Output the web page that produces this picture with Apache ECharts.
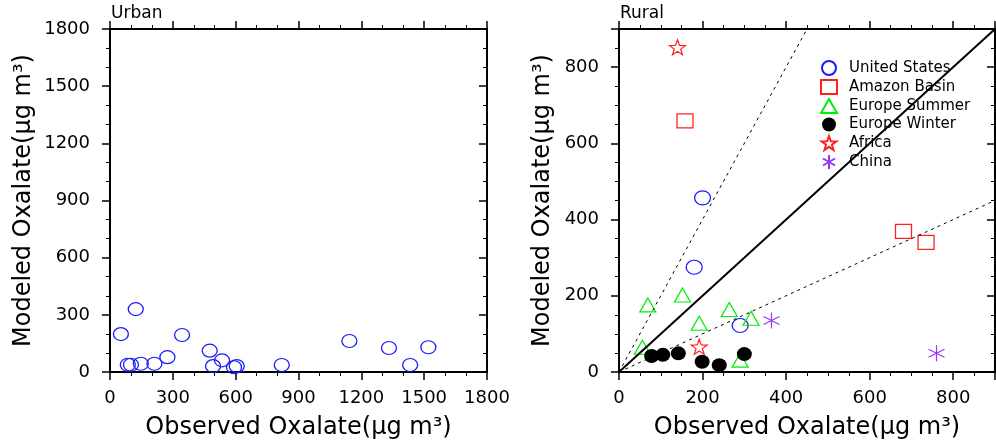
<!DOCTYPE html>
<html>
<head>
<meta charset="utf-8">
<script src="https://cdn.jsdelivr.net/npm/echarts@6/dist/echarts.min.js"></script>
<style>
  html, body { margin: 0; padding: 0; background: #fff; }
  #main { width: 996px; height: 441px; }
</style>
</head>
<body>
<div id="main"></div>
<script>
// Urban panel: [observed, modeled]
var urbanPts = [[52, 199], [123, 330], [85, 38], [100, 38], [147, 43], [212, 43], [274, 78],
    [344, 194], [476, 112], [492, 31], [535, 61], [592, 25], [605, 31], [820, 37],
    [1143, 163], [1332, 126], [1433, 37], [1520, 130]];

// Rural panel
var usPts = [[200, 457], [180, 275], [290, 122]];
var amazonPts = [[158, 659], [681, 369], [735, 340]];
var euSummerPts = [[69, 176], [152, 202], [192, 128], [264, 164], [316, 141], [56, 65], [290, 31]];
var euWinterPts = [[78, 42], [105, 45], [142, 49], [199, 27], [240, 18], [300, 47]];
var africaPts = [[140, 852], [192, 66]];
var chinaPts = [[365, 135], [760, 49]];

// reference lines 1:1, 2:1, 1:2
var oneToOne = [[0, 0], [900, 900]];
var twoToOne = [[0, 0], [450, 900]];
var oneToTwo = [[0, 0], [900, 450]];

var xTitle = 'Observed Oxalate(\u03bcg m\u00b3)';
var yTitle = 'Modeled Oxalate(\u03bcg m\u00b3)';

var FONT = 'DejaVu Sans';
var starPath = 'path://M0,-10 L2.35,-3.24 L9.51,-3.09 L3.8,1.24 L5.88,8.09 L0,4 L-5.88,8.09 L-3.8,1.24 L-9.51,-3.09 L-2.35,-3.24 Z';
var asterPath = 'path://M0,-10 L0,10 M-8.66,-5 L8.66,5 M-8.66,5 L8.66,-5';

var myChart = echarts.init(document.getElementById('main'));

function mkAxis(pos, gridIndex, max, interval, show, name, nameGap) {
    var inside = pos === 'right';
    return {
        type: 'value',
        gridIndex: gridIndex,
        position: pos,
        min: 0,
        max: max,
        interval: interval,
        name: name || '',
        nameLocation: 'middle',
        nameGap: nameGap || 0,
        nameTextStyle: { fontFamily: FONT, fontSize: 24, color: '#000' },
        axisLine: { show: true, onZero: false, lineStyle: { color: '#000', width: 2 } },
        axisTick: { show: true, inside: inside, length: 8, lineStyle: { color: '#000', width: 1.5 } },
        minorTick: { show: true, splitNumber: interval === 300 ? 3 : 4, length: 4, lineStyle: { color: '#000', width: 1 } },
        axisLabel: {
            show: show,
            margin: pos === 'bottom' ? 17 : 20,
            fontFamily: FONT,
            fontSize: 18,
            color: '#000',
            showMaxLabel: max === 1800,
            formatter: function (v) { return String(v); }
        },
        splitLine: { show: false }
    };
}

option = {
    backgroundColor: '#fff',
    animation: false,
    title: [
        { text: 'Urban', left: 106, top: 0, textStyle: { fontFamily: FONT, fontSize: 17, fontWeight: 'normal', color: '#000' } },
        { text: 'Rural', left: 615, top: 0, textStyle: { fontFamily: FONT, fontSize: 17, fontWeight: 'normal', color: '#000' } }
    ],
    grid: [
        { left: 110, top: 29, width: 377, height: 343, outerBoundsMode: 'none', containLabel: false },
        { left: 619, top: 29, width: 376, height: 343, outerBoundsMode: 'none', containLabel: false }
    ],
    xAxis: [
        mkAxis('bottom', 0, 1800, 300, true, xTitle, 44),
        mkAxis('top', 0, 1800, 300, false),
        mkAxis('bottom', 1, 900, 200, true, xTitle, 44),
        mkAxis('top', 1, 900, 200, false)
    ],
    yAxis: [
        mkAxis('left', 0, 1800, 300, true, yTitle, 74),
        mkAxis('right', 0, 1800, 300, false),
        mkAxis('left', 1, 900, 200, true, yTitle, 64),
        mkAxis('right', 1, 900, 200, false)
    ],
    legend: {
        orient: 'vertical',
        left: 815,
        top: 55,
        itemWidth: 16,
        itemHeight: 14,
        itemGap: 3,
        textStyle: { fontFamily: FONT, fontSize: 15, color: '#000', padding: [0, 0, 0, 7] },
        data: ['United States', 'Amazon Basin', 'Europe Summer', 'Europe Winter', 'Africa', 'China']
    },
    series: [
        {
            name: 'Urban', type: 'scatter', xAxisIndex: 0, yAxisIndex: 0,
            symbol: 'circle', symbolSize: [15, 13],
            itemStyle: { color: 'transparent', borderColor: '#1a1aff', borderWidth: 1.2, opacity: 1 },
            data: urbanPts
        },
        {
            name: '1:1', type: 'line', xAxisIndex: 2, yAxisIndex: 2, symbol: 'none', silent: true,
            lineStyle: { color: '#000', width: 2 }, data: oneToOne
        },
        {
            name: '2:1', type: 'line', xAxisIndex: 2, yAxisIndex: 2, symbol: 'none', silent: true,
            lineStyle: { color: '#000', width: 1, type: [3, 4] }, data: twoToOne
        },
        {
            name: '1:2', type: 'line', xAxisIndex: 2, yAxisIndex: 2, symbol: 'none', silent: true,
            lineStyle: { color: '#000', width: 1, type: [3, 4] }, data: oneToTwo
        },
        {
            name: 'United States', type: 'scatter', xAxisIndex: 2, yAxisIndex: 2,
            symbol: 'circle', symbolSize: [16, 14],
            itemStyle: { color: 'transparent', borderColor: '#1a1aff', borderWidth: 1.2, opacity: 1 },
            data: usPts
        },
        {
            name: 'Amazon Basin', type: 'scatter', xAxisIndex: 2, yAxisIndex: 2,
            symbol: 'rect', symbolSize: [16, 14],
            itemStyle: { color: 'transparent', borderColor: '#ff2020', borderWidth: 1.2, opacity: 1 },
            data: amazonPts
        },
        {
            name: 'Europe Summer', type: 'scatter', xAxisIndex: 2, yAxisIndex: 2,
            symbol: 'triangle', symbolSize: [16, 14],
            itemStyle: { color: 'transparent', borderColor: '#00ee00', borderWidth: 1.2, opacity: 1 },
            data: euSummerPts
        },
        {
            name: 'Europe Winter', type: 'scatter', xAxisIndex: 2, yAxisIndex: 2,
            symbol: 'circle', symbolSize: [15, 14],
            itemStyle: { color: '#000', opacity: 1 },
            data: euWinterPts
        },
        {
            name: 'Africa', type: 'scatter', xAxisIndex: 2, yAxisIndex: 2,
            symbol: starPath, symbolSize: [16, 15],
            itemStyle: { color: 'transparent', borderColor: '#ff2020', borderWidth: 1.2, opacity: 1 },
            data: africaPts
        },
        {
            name: 'China', type: 'scatter', xAxisIndex: 2, yAxisIndex: 2,
            symbol: asterPath, symbolSize: [16, 16],
            itemStyle: { color: 'transparent', borderColor: '#9933ff', borderWidth: 1.2, opacity: 1 },
            data: chinaPts
        }
    ]
};
myChart.setOption(option);
window.addEventListener("resize", function () {
    myChart.resize();
});
</script>
</body>
</html>
